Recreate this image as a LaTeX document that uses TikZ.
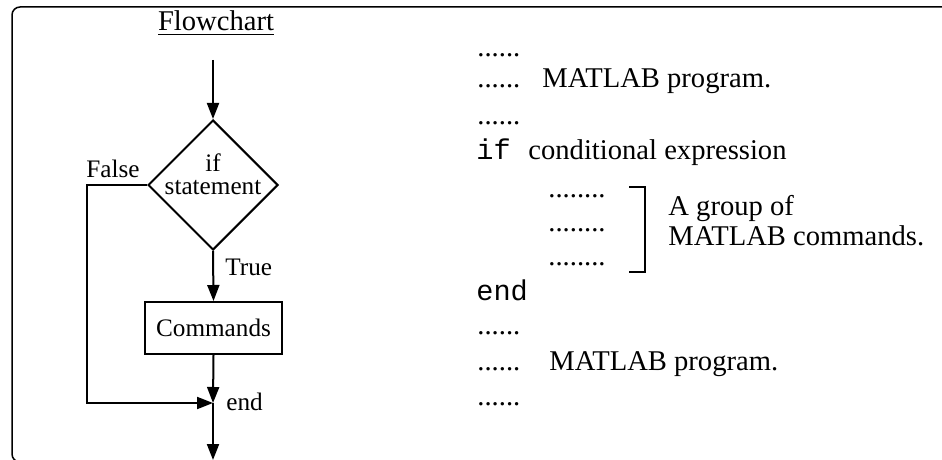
\documentclass[tikz,border=0pt]{standalone}
\usepackage{fontspec}
\setmainfont{Liberation Serif}
\setmonofont{Liberation Mono}
\usetikzlibrary{shapes.geometric, arrows.meta, positioning}

\tikzset{
  flow/.style={line width=1pt},
  arr/.style={flow, -{Triangle[length=8pt,width=6pt]}},
  lbl/.style={font=\fontsize{12.6}{15}\selectfont, inner sep=0pt, anchor=base west},
  code/.style={font=\fontsize{14.3}{17}\selectfont, inner sep=0pt, anchor=base west},
}

\begin{document}
\begin{tikzpicture}[x=0.5pt,y=-0.5pt]
  \useasboundingbox (0,0) rectangle (942,460);
  \begin{scope}
    \clip (0,0) rectangle (942,460);
    \draw[line width=0.75pt, rounded corners=4pt] (12,462) rectangle (960,7);
  \end{scope}

  % flowchart
  \node[font=\fontsize{14.3}{17}\selectfont, inner sep=0pt, anchor=base] (title) at (216,31) {\underline{Flowchart}};
  \coordinate (in) at (213,60);
  \node[diamond, draw, flow, minimum width=65pt, minimum height=65pt, inner sep=0pt] (cond) at (213,185) {};
  \node[font=\fontsize{12.6}{15}\selectfont, inner sep=0pt, anchor=base] (condif) at (213,171) {if};
  \node[font=\fontsize{12.6}{15}\selectfont, inner sep=0pt, anchor=base] (condst) at (213,194) {statement};
  \node[draw, flow, minimum width=68.5pt, minimum height=26pt, inner sep=0pt, font=\fontsize{12.6}{15}\selectfont] (cmds) at (213.5,328) {Commands};
  \coordinate (merge) at (213,403);
  \coordinate (out) at (213,460);
  \node[lbl] (false) at (86,177) {False};
  \node[lbl] (true) at (225,275) {True};
  \node[lbl] (endlbl) at (226,410) {end};

  \draw[arr] (in) -- (cond.north);
  \draw[arr] (cond.south) -- (cmds.north);
  \draw[arr] (cmds.south) -- (merge);
  \draw[arr] (cond.west) -- ++(-60,0) |- (merge);
  \draw[arr] (merge) -- (out);

  % program text
  \node[code] (d1) at (477,57) {......};
  \node[code] (d2) at (477,88) {......};
  \node[code] (p1) at (542,88) {MATLAB program.};
  \node[code] (d3) at (477,125) {......};
  \node[code] (kif) at (476,160) {\texttt{if}};
  \node[code] (expr) at (528,160) {conditional expression};
  \node[code] (c1) at (548,197) {........};
  \node[code] (c2) at (548,231) {........};
  \node[code] (c3) at (548,265) {........};
  \draw[flow] (629,187) -- (645,187) -- (645,272) -- (629,272);
  \node[code] (grp1) at (668,215) {A group of};
  \node[code] (grp2) at (668,245) {MATLAB commands.};
  \node[code] (kend) at (476,300) {\texttt{end}};
  \node[code] (d4) at (477,334) {......};
  \node[code] (d5) at (477,370) {......};
  \node[code] (p2) at (549,370) {MATLAB program.};
  \node[code] (d6) at (477,405) {......};
\end{tikzpicture}
\end{document}
